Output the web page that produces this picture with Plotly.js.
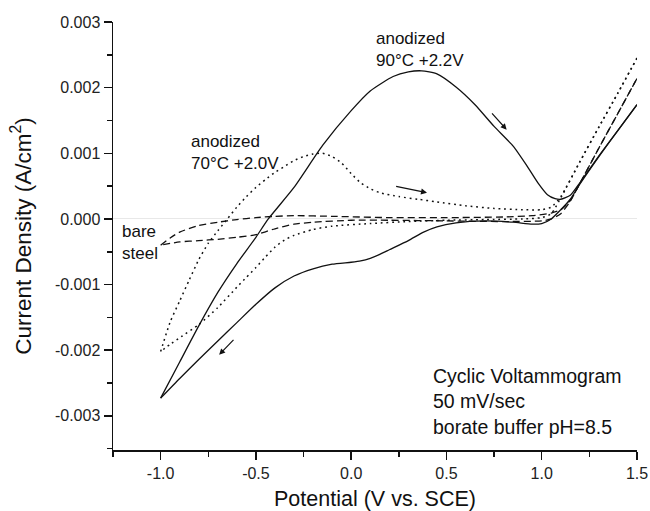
<!DOCTYPE html>
<html>
<head>
<meta charset="utf-8">
<script src="https://cdn.plot.ly/plotly-3.0.1.min.js"></script>
<style>html,body{margin:0;padding:0;background:#fff;}#chart{width:650px;height:511px;}</style>
</head>
<body>
<div id="chart"></div>
<script>
// ---- Data (Potential V vs SCE, Current Density A/cm^2) ----
// anodized 90°C +2.2V (solid)
const s90FwdX = [-1.0,-0.9,-0.8,-0.7,-0.6,-0.5,-0.435,-0.3,-0.15,0.0,0.1,0.22,0.3,0.37,0.45,0.55,0.65,0.75,0.85,0.92,0.98,1.03,1.07,1.1,1.15,1.2,1.3,1.4,1.5];
const s90FwdY = [-0.00273,-0.00218,-0.00163,-0.00112,-0.00068,-0.00028,0.0,0.00048,0.00112,0.00165,0.00195,0.00217,0.00224,0.002256,0.00221,0.00201,0.00174,0.00141,0.00111,0.00082,0.00055,0.00037,0.00031,0.0003,0.00036,0.00055,0.00096,0.00135,0.00174];
const s90RevX = [1.5,1.4,1.3,1.2,1.15,1.1,1.05,1.0,0.95,0.85,0.7,0.55,0.45,0.38,0.3,0.2,0.15,0.1,0.05,0.0,-0.1,-0.2,-0.3,-0.4,-0.5,-0.6,-0.7,-0.8,-0.9,-1.0];
const s90RevY = [0.00174,0.00135,0.00095,0.00053,0.0003,0.00014,0.0,-0.00007,-0.00008,-0.00005,-0.00003,-0.00006,-0.00012,-0.0002,-0.00033,-0.00047,-0.00054,-0.0006,-0.00064,-0.00066,-0.00069,-0.00076,-0.00087,-0.00105,-0.0013,-0.00158,-0.00186,-0.00214,-0.00243,-0.00273];
// anodized 70°C +2.0V (dotted)
const s70FwdX = [-1.0,-0.95,-0.9,-0.85,-0.8,-0.75,-0.7,-0.65,-0.6,-0.55,-0.5,-0.45,-0.4,-0.35,-0.3,-0.25,-0.2,-0.15,-0.1,-0.05,0.0,0.05,0.1,0.15,0.25,0.35,0.45,0.6,0.75,0.9,1.0,1.05,1.1,1.2,1.3,1.4,1.5];
const s70FwdY = [-0.00202,-0.00157,-0.00125,-0.00093,-0.00062,-0.00037,-0.00018,0.0,0.00018,0.00034,0.00048,0.0006,0.00071,0.0008,0.00089,0.00095,0.00099,0.001,0.00095,0.00085,0.00069,0.00055,0.00046,0.0004,0.00034,0.0003,0.00026,0.0002,0.00016,0.00014,0.00014,0.00018,0.00034,0.00087,0.0014,0.00192,0.00245];
const s70RevX = [1.5,1.4,1.3,1.2,1.1,1.05,1.0,0.9,0.7,0.5,0.3,0.1,-0.1,-0.2,-0.3,-0.35,-0.4,-0.45,-0.5,-0.55,-0.6,-0.7,-0.8,-0.9,-0.95,-1.0];
const s70RevY = [0.00245,0.00192,0.0014,0.00087,0.00032,0.00008,0.00002,0.0,-0.00001,-0.00002,-0.00004,-0.00007,-0.00011,-0.00016,-0.00025,-0.00032,-0.00043,-0.00058,-0.00074,-0.00089,-0.00104,-0.00135,-0.00161,-0.00181,-0.00191,-0.00202];
// bare steel (dashed)
const bareFwdX = [-1.0,-0.95,-0.9,-0.8,-0.7,-0.6,-0.5,-0.4,-0.3,-0.1,0.2,0.5,0.8,0.95,1.05,1.1,1.15,1.2,1.3,1.4,1.5];
const bareFwdY = [-0.0004,-0.00029,-0.0002,-0.0001,-0.00005,-0.00001,0.00002,0.00004,0.00005,0.00004,0.00002,0.00002,0.00003,0.00005,0.00009,0.00014,0.00028,0.00054,0.00108,0.00161,0.00214];
const bareRevX = [1.5,1.4,1.3,1.2,1.15,1.1,1.05,1.0,0.8,0.5,0.2,0.0,-0.2,-0.3,-0.4,-0.5,-0.6,-0.7,-0.8,-0.9,-1.0];
const bareRevY = [0.00214,0.00161,0.00108,0.00054,0.00027,0.00008,0.0,-0.00003,-0.00004,-0.00003,-0.00002,-0.00002,-0.00005,-0.00008,-0.00015,-0.00024,-0.00028,-0.00031,-0.00033,-0.00035,-0.0004];

// ---- Ticks ----
const xTickVals = [-1.0,-0.5,0.0,0.5,1.0,1.5];
const xTickText = ["-1.0","-0.5","0.0","0.5","1.0","1.5"];
const yTickVals = [-0.003,-0.002,-0.001,0.0,0.001,0.002,0.003];
const yTickText = ["-0.003","-0.002","-0.001","0.000","0.001","0.002","0.003"];

const FONT = '"Liberation Sans", Arial, Helvetica, sans-serif';
const INK = '#111';

function tr(x, y, dash, w) {
  return {x: x, y: y, type: 'scatter', mode: 'lines', showlegend: false, hoverinfo: 'skip',
    line: {color: INK, width: w, dash: dash, shape: 'spline', smoothing: 0.55}};
}
const data = [
  tr(bareFwdX, bareFwdY, '7px,4px', 1.3), tr(bareRevX, bareRevY, '7px,4px', 1.3),
  tr(s70FwdX, s70FwdY, '1.8px,3.8px', 1.5), tr(s70RevX, s70RevY, '1.8px,3.8px', 1.5),
  tr(s90FwdX, s90FwdY, 'solid', 1.3), tr(s90RevX, s90RevY, 'solid', 1.3)
];

function arrow(x, y, ax, ay) {
  return {x: x, y: y, ax: ax, ay: ay, xref: 'x', yref: 'y', axref: 'x', ayref: 'y', text: '',
    showarrow: true, arrowhead: 2, arrowsize: 1, arrowwidth: 1.2, arrowcolor: INK};
}
function label(x, y, txt) {
  return {x: x, y: y, xref: 'x', yref: 'y', text: txt, showarrow: false, xanchor: 'left', yanchor: 'top',
    align: 'left', font: {family: FONT, size: 17, color: INK}};
}

const layout = {
  width: 650, height: 511,
  margin: {l: 113, r: 13, t: 22, b: 61},
  paper_bgcolor: '#fff', plot_bgcolor: '#fff',
  font: {family: FONT, color: INK},
  xaxis: {
    range: [-1.25, 1.5], tickvals: xTickVals, ticktext: xTickText,
    showgrid: false, zeroline: false, showline: true, linecolor: INK, linewidth: 1.5,
    ticks: 'outside', ticklen: 8, tickwidth: 1.5, tickcolor: INK,
    minor: {ticks: 'outside', ticklen: 5, tickwidth: 1.5, tickcolor: INK, dtick: 0.25, tick0: 0, showgrid: false},
    tickfont: {family: FONT, size: 16, color: '#222'},
    title: {text: 'Potential (V vs. SCE)', font: {family: FONT, size: 21.5, color: INK}, standoff: 15}
  },
  yaxis: {
    range: [-0.00352, 0.003], tickvals: yTickVals, ticktext: yTickText,
    showgrid: false, zeroline: true, zerolinecolor: '#e8e8e8', zerolinewidth: 1,
    showline: true, linecolor: INK, linewidth: 1.5,
    ticks: 'outside', ticklen: 8, tickwidth: 1.5, tickcolor: INK,
    minor: {ticks: 'outside', ticklen: 5, tickwidth: 1.5, tickcolor: INK, dtick: 0.0005, tick0: 0, showgrid: false},
    tickfont: {family: FONT, size: 16, color: '#222'},
    title: {text: 'Current Density (A/cm<sup>2</sup>)', font: {family: FONT, size: 22.5, color: INK}, standoff: 17}
  },
  annotations: [
    label(0.118, 0.00293, 'anodized<br>90°C +2.2V'),
    label(-0.853, 0.00136, 'anodized<br>70°C +2.0V'),
    label(-1.215, -0.00001, 'bare<br>steel'),
    {x: 0.418, y: -0.00219, xref: 'x', yref: 'y', text: 'Cyclic Voltammogram<br>50 mV/sec<br>borate buffer pH=8.5',
      showarrow: false, xanchor: 'left', yanchor: 'top', align: 'left', font: {family: FONT, size: 19.5, color: INK}},
    arrow(0.816, 0.00136, 0.732, 0.00163),
    arrow(0.398, 0.0004, 0.228, 0.0005),
    arrow(-0.693, -0.00207, -0.61, -0.00182)
  ]
};

Plotly.newPlot('chart', data, layout, {staticPlot: true, displayModeBar: false});
</script>
</body>
</html>
